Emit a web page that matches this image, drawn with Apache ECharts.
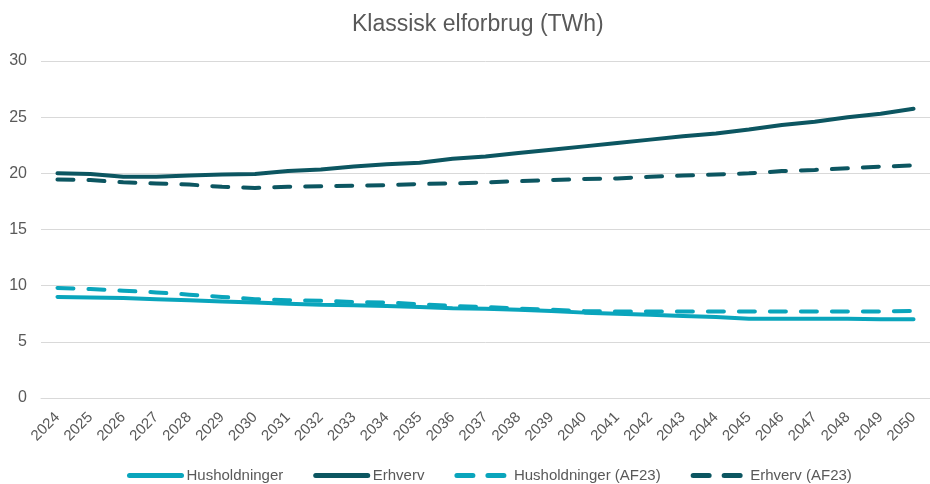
<!DOCTYPE html>
<html>
<head>
<meta charset="utf-8">
<script src="https://cdn.jsdelivr.net/npm/echarts@6/dist/echarts.min.js"></script>
<style>
  html, body { margin: 0; padding: 0; background: #fff; }
  #chart { width: 930px; height: 484px; }
</style>
</head>
<body>
<div id="chart"></div>
<script>
'use strict';

// data (TWh)
var years = ['2024', '2025', '2026', '2027', '2028', '2029', '2030', '2031', '2032', '2033',
    '2034', '2035', '2036', '2037', '2038', '2039', '2040', '2041', '2042', '2043',
    '2044', '2045', '2046', '2047', '2048', '2049', '2050'];
var husholdninger = [9.0, 8.95, 8.9, 8.8, 8.7, 8.6, 8.5, 8.4, 8.3, 8.25,
    8.2, 8.1, 8.0, 7.95, 7.85, 7.75, 7.6, 7.5, 7.4, 7.3,
    7.2, 7.05, 7.05, 7.05, 7.05, 7.0, 7.0];
var erhverv = [20.0, 19.95, 19.7, 19.7, 19.8, 19.9, 19.95, 20.2, 20.35, 20.6,
    20.8, 20.95, 21.3, 21.5, 21.8, 22.1, 22.4, 22.7, 23.0, 23.3,
    23.55, 23.9, 24.3, 24.6, 25.0, 25.3, 25.75];
var husholdningerAF23 = [9.8, 9.7, 9.55, 9.4, 9.2, 9.0, 8.8, 8.7, 8.65, 8.55,
    8.5, 8.35, 8.2, 8.1, 7.95, 7.85, 7.75, 7.7, 7.7, 7.7,
    7.7, 7.7, 7.7, 7.7, 7.7, 7.7, 7.75];
var erhvervAF23 = [19.45, 19.4, 19.2, 19.1, 19.0, 18.8, 18.7, 18.8, 18.85, 18.9,
    18.95, 19.05, 19.1, 19.2, 19.3, 19.4, 19.5, 19.55, 19.7, 19.8,
    19.9, 20.0, 20.2, 20.3, 20.45, 20.6, 20.7];
var yTicks = {min: 0, max: 30, interval: 5};

var teal = '#0aa5bc';
var dark = '#0c5661';
var grey = '#595959';
var font = 'Liberation Sans';

function lineSeries(name, data, color, dashed) {
    return {
        name: name,
        type: 'line',
        data: data,
        symbol: 'none',
        smooth: false,
        lineStyle: {
            color: color,
            width: 4,
            type: dashed ? [16, 15] : 'solid',
            cap: 'round'
        },
        itemStyle: {color: color}
    };
}

var chart = echarts.init(document.getElementById('chart'));
var option = {
    animation: false,
    backgroundColor: '#fff',
    title: {
        text: 'Klassisk elforbrug (TWh)',
        left: 352,
        top: 13,
        padding: 0,
        textStyle: {color: grey, fontSize: 23, fontWeight: 'normal', fontFamily: font}
    },
    grid: {left: 41, right: -13, top: 61, bottom: 86},
    legend: {
        top: 468,
        left: 127,
        padding: 0,
        itemWidth: 52,
        itemHeight: 5,
        itemGap: 30,
        itemStyle: {opacity: 0},
        lineStyle: {width: 5, cap: 'round'},
        textStyle: {color: grey, fontSize: 15, fontFamily: font},
        data: ['Husholdninger', 'Erhverv', 'Husholdninger (AF23)', 'Erhverv (AF23)']
    },
    xAxis: {
        type: 'category',
        data: years,
        boundaryGap: true,
        axisLine: {show: true, lineStyle: {color: '#d9d9d9'}},
        axisTick: {show: false},
        axisLabel: {color: grey, fontSize: 15, fontFamily: font, rotate: 45, interval: 0, margin: 17}
    },
    yAxis: {
        type: 'value',
        min: yTicks.min,
        max: yTicks.max,
        interval: yTicks.interval,
        axisLine: {show: false},
        axisTick: {show: false},
        axisLabel: {color: grey, fontSize: 16, fontFamily: font, margin: 14},
        splitLine: {lineStyle: {color: '#d9d9d9', width: 1}}
    },
    series: [
        lineSeries('Husholdninger', husholdninger, teal, false),
        lineSeries('Erhverv', erhverv, dark, false),
        lineSeries('Husholdninger (AF23)', husholdningerAF23, teal, true),
        lineSeries('Erhverv (AF23)', erhvervAF23, dark, true)
    ]
};
chart.setOption(option);
</script>
</body>
</html>
